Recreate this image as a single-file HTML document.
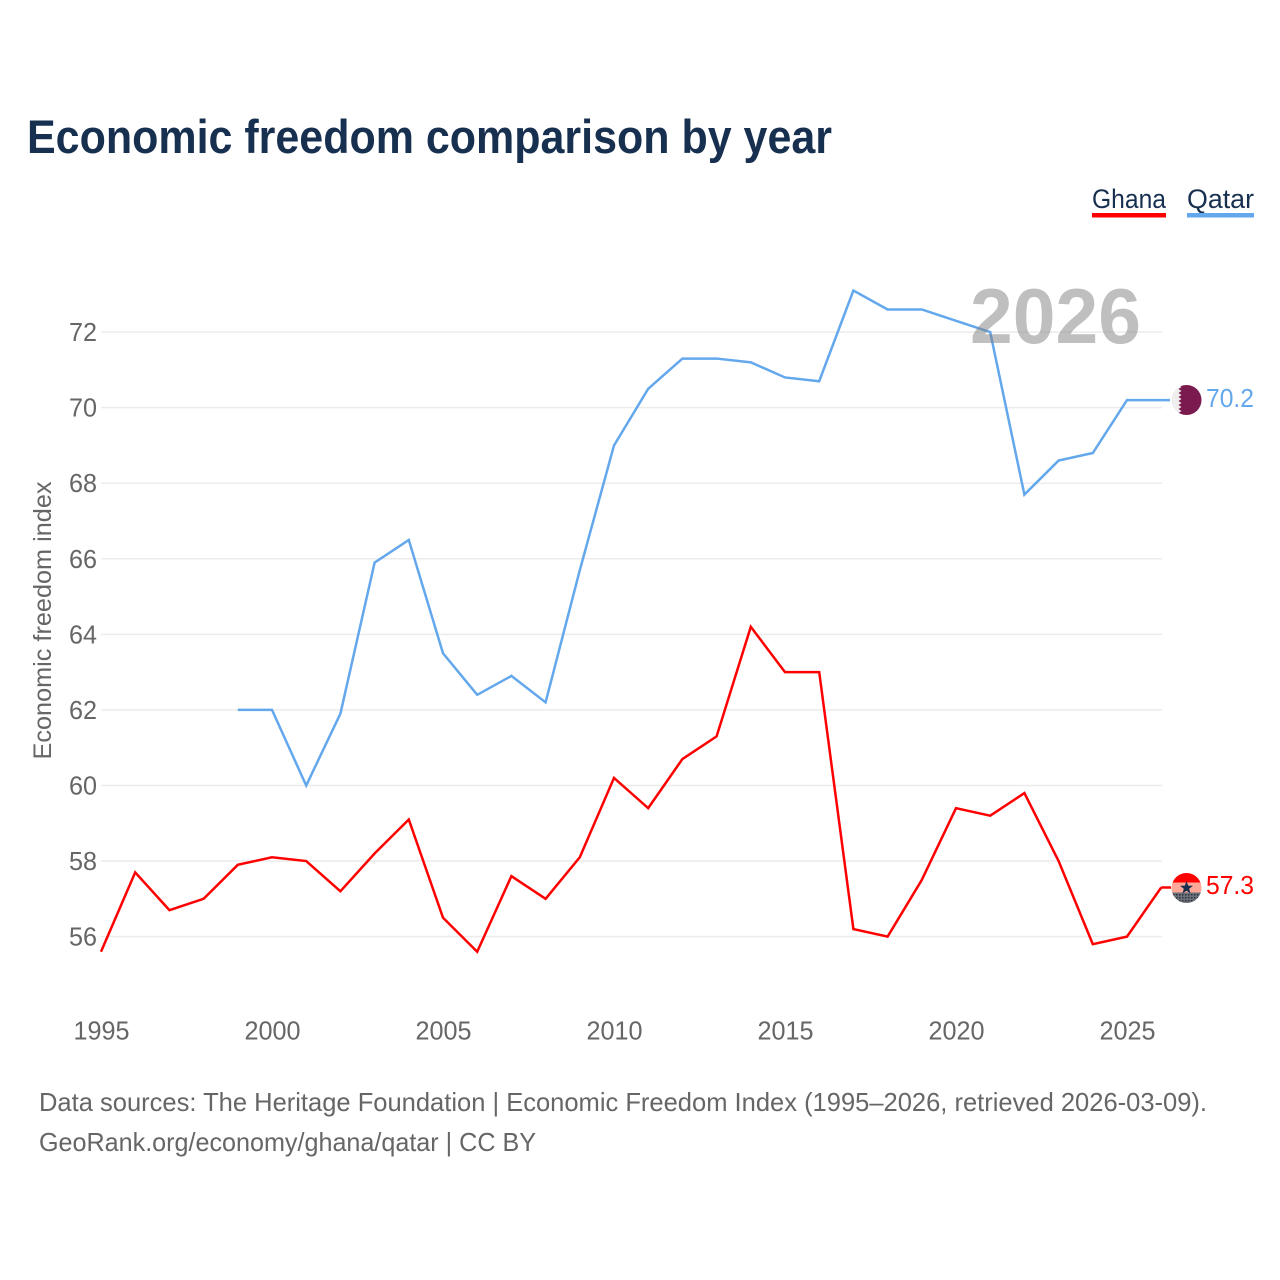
<!DOCTYPE html>
<html lang="en">
<head>
<meta charset="utf-8">
<title>Economic freedom comparison by year</title>
<style>
html,body{margin:0;padding:0;background:#fff;width:1280px;height:1280px;overflow:hidden}
svg{display:block}
text{font-family:"Liberation Sans",sans-serif}
</style>
</head>
<body>
<svg id="chart" xmlns="http://www.w3.org/2000/svg" width="1280" height="1280" viewBox="0 0 1280 1280">
  <defs>
    <clipPath id="flag-clip-q"><circle cx="1186.5" cy="400" r="15"/></clipPath>
    <clipPath id="flag-clip-g"><circle cx="1186.5" cy="888" r="15"/></clipPath>
    <pattern id="dots" width="3" height="3" patternUnits="userSpaceOnUse">
      <rect width="3" height="3" fill="#6b6f78"/>
      <rect width="1.5" height="1.5" fill="#2f3540"/>
    </pattern>
  </defs>
  <rect width="1280" height="1280" fill="#fff"/>
  <text x="27" y="153" font-size="47" font-weight="700" fill="#17304f" textLength="805" lengthAdjust="spacingAndGlyphs">Economic freedom comparison by year</text>

  <g>
    <g>
      <text x="1092" y="208" font-size="27" fill="#17304f" textLength="74" lengthAdjust="spacingAndGlyphs">Ghana</text>
      <rect x="1092" y="213" width="74" height="4.5" fill="#ff0000"/>
    </g>
    <g>
      <text x="1187" y="208" font-size="27" fill="#17304f" textLength="67" lengthAdjust="spacingAndGlyphs">Qatar</text>
      <rect x="1187" y="213" width="67" height="4.5" fill="#63a7ec"/>
    </g>
  </g>

  <g id="grid"></g>
  <g id="yticks"></g>
  <g id="xticks"></g>
  <text transform="translate(51,620.5) rotate(-90)" text-anchor="middle" font-size="25" fill="#666" textLength="278" lengthAdjust="spacingAndGlyphs">Economic freedom index</text>

  <g id="series"></g>

  <text x="970" y="343" font-size="78" font-weight="700" fill="#808080" fill-opacity="0.5" textLength="171" lengthAdjust="spacingAndGlyphs">2026</text>

  <g clip-path="url(#flag-clip-q)">
    <rect x="1171" y="385" width="32" height="30" fill="#eeeeee"/>
    <polygon points="1203,385 1178.5,385 1181.5,387 1178.5,389 1181.5,391 1178.5,393 1181.5,395 1178.5,397 1181.5,399 1178.5,401 1181.5,403 1178.5,405 1181.5,407 1178.5,409 1181.5,411 1178.5,413 1181.5,415 1203,415" fill="#7a1a4e"/>
  </g>
  <text id="end-label-qatar" x="1206" y="407" font-size="26" fill="#63a7ec" textLength="48" lengthAdjust="spacingAndGlyphs">70.2</text>

  <g clip-path="url(#flag-clip-g)">
    <rect x="1171" y="873" width="32" height="9.5" fill="#ff0000"/>
    <rect x="1171" y="882.5" width="32" height="10" fill="#ffa898"/>
    <rect x="1171" y="892.5" width="32" height="11" fill="url(#dots)"/>
    <polygon points="1186.5,881 1188.2,885.6 1193,885.8 1189.2,888.8 1190.5,893.4 1186.5,890.7 1182.5,893.4 1183.8,888.8 1180,885.8 1184.8,885.6" fill="#17304f"/>
  </g>
  <text id="end-label-ghana" x="1206" y="894" font-size="26" fill="#ff0000" textLength="48" lengthAdjust="spacingAndGlyphs">57.3</text>

  <g>
    <text x="39" y="1111" font-size="26" fill="#666" textLength="1168" lengthAdjust="spacingAndGlyphs">Data sources: The Heritage Foundation | Economic Freedom Index (1995–2026, retrieved 2026-03-09).</text>
    <text x="39" y="1151" font-size="26" fill="#666" textLength="497" lengthAdjust="spacingAndGlyphs">GeoRank.org/economy/ghana/qatar | CC BY</text>
  </g>
</svg>
<script>
const ghanaYears = [1995,1996,1997,1998,1999,2000,2001,2002,2003,2004,2005,2006,2007,2008,2009,2010,2011,2012,2013,2014,2015,2016,2017,2018,2019,2020,2021,2022,2023,2024,2025,2026];
const ghanaValues = [55.6,57.7,56.7,57.0,57.9,58.1,58.0,57.2,58.2,59.1,56.5,55.6,57.6,57.0,58.1,60.2,59.4,60.7,61.3,64.2,63.0,63.0,56.2,56.0,57.5,59.4,59.2,59.8,58.0,55.8,56.0,57.3];
const qatarYears = [1999,2000,2001,2002,2003,2004,2005,2006,2007,2008,2009,2010,2011,2012,2013,2014,2015,2016,2017,2018,2019,2020,2021,2022,2023,2024,2025,2026];
const qatarValues = [62.0,62.0,60.0,61.9,65.9,66.5,63.5,62.4,62.9,62.2,65.7,69.0,70.5,71.3,71.3,71.2,70.8,70.7,73.1,72.6,72.6,72.3,72.0,67.7,68.6,68.8,70.2,70.2];
const yTickValues = [56,58,60,62,64,66,68,70,72];
const xTickValues = [1995,2000,2005,2010,2015,2020,2025];

const NS = 'http://www.w3.org/2000/svg';
function xScale(year){ return 101 + (year - 1995) * 34.2; }
function yScale(value){ return 936.6 - (value - 56) * 37.78; }
function make(tag, attrs, parent){
  const el = document.createElementNS(NS, tag);
  for (const k in attrs) el.setAttribute(k, attrs[k]);
  parent.appendChild(el);
  return el;
}
const grid = document.getElementById('grid');
const yticks = document.getElementById('yticks');
const xticks = document.getElementById('xticks');
const series = document.getElementById('series');

yTickValues.forEach(function(v){
  const line = make('line', {x1:101, x2:1162, y1:yScale(v), y2:yScale(v), stroke:'#ececec', 'stroke-width':1.5}, grid);
  
  
  const t = make('text', {x:97, y:yScale(v)+9, 'text-anchor':'end', 'font-size':26, fill:'#666', textLength:28, lengthAdjust:'spacingAndGlyphs'}, yticks);
  
  
  t.textContent = v;
});
xTickValues.forEach(function(v){
  const t = make('text', {x:xScale(v)+0.5, y:1039.5, 'text-anchor':'middle', 'font-size':26, fill:'#666', textLength:56, lengthAdjust:'spacingAndGlyphs'}, xticks);
  
  
  t.textContent = v;
});

function drawSeries(years, values, color, name, stubX){
  const pts = years.map(function(y, i){ return xScale(y).toFixed(2) + ',' + yScale(values[i]).toFixed(2); });
  const lastY = yScale(values[values.length - 1]);
  const line = make('polyline', {points:pts.join(' '), fill:'none', stroke:color, 'stroke-width':2.5, 'stroke-linejoin':'miter'}, series);
  
  
  const stub = make('line', {x1:xScale(years[years.length - 1]), x2:stubX, y1:lastY, y2:lastY, stroke:color, 'stroke-width':2.5}, series);
  
  
}
drawSeries(ghanaYears, ghanaValues, '#ff0000', 'ghana', 1171);
drawSeries(qatarYears, qatarValues, '#63a7ec', 'qatar', 1170);

document.getElementById('end-label-qatar').textContent = qatarValues[qatarValues.length - 1].toFixed(1);
document.getElementById('end-label-ghana').textContent = ghanaValues[ghanaValues.length - 1].toFixed(1);
</script>
</body>
</html>
